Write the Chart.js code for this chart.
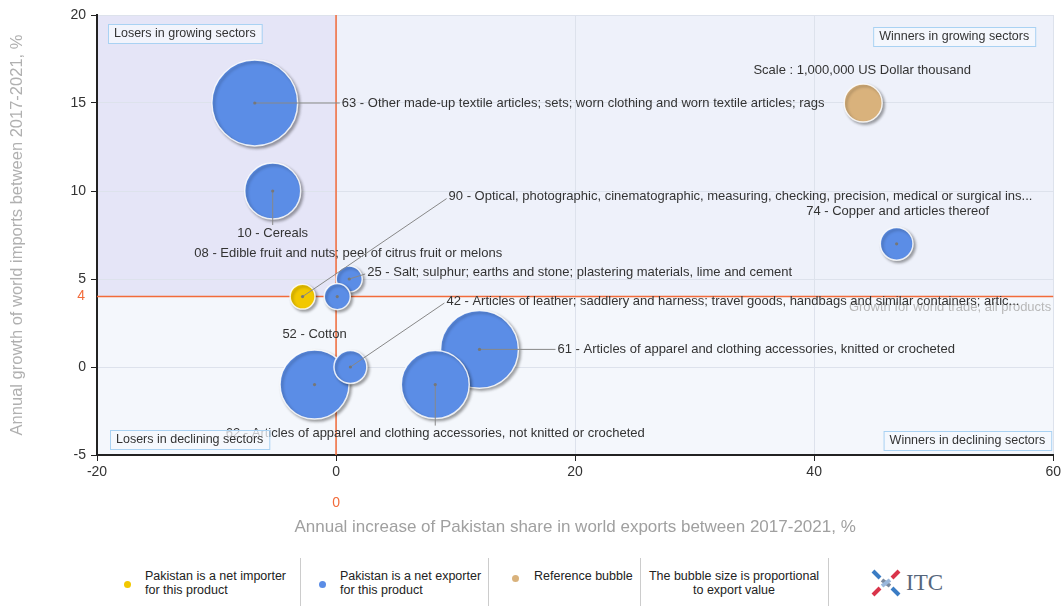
<!DOCTYPE html>
<html>
<head>
<meta charset="utf-8">
<script src="https://cdn.jsdelivr.net/npm/chart.js@4"></script>
<style>
  html, body { margin: 0; padding: 0; background: #fff; }
  body { width: 1064px; height: 606px; position: relative; overflow: hidden; font-family: "Liberation Sans", Arial, sans-serif; }
  #wrap { position: absolute; left: 0; top: 0; width: 1064px; height: 545px; }
  .leg { position: absolute; font-size: 12.5px; color: #222; line-height: 14px; white-space: nowrap; }
  .dot { position: absolute; width: 7px; height: 7px; border-radius: 50%; }
  .sep { position: absolute; top: 558px; width: 1px; height: 48px; background: #ccc; }
</style>
</head>
<body>
<div id="wrap"><canvas id="chart"></canvas></div>

<div class="dot" style="left:124px;top:581px;background:#f2c800"></div>
<div class="leg" style="left:145px;top:569px">Pakistan is a net importer<br>for this product</div>
<div class="sep" style="left:300px"></div>
<div class="dot" style="left:319px;top:581px;background:#5b8de6"></div>
<div class="leg" style="left:340px;top:569px">Pakistan is a net exporter<br>for this product</div>
<div class="sep" style="left:488px"></div>
<div class="dot" style="left:512px;top:575px;background:#d9b27c"></div>
<div class="leg" style="left:534px;top:569px">Reference bubble</div>
<div class="sep" style="left:640px"></div>
<div class="leg" style="left:640px;top:569px;width:188px;text-align:center">The bubble size is proportional<br>to export value</div>
<div class="sep" style="left:828px"></div>
<div style="position:absolute;left:870px;top:568px;">
  <svg width="32" height="30" viewBox="0 0 32 30">
    <g stroke-width="4" stroke-linecap="butt">
      <line x1="3" y1="3" x2="10" y2="10" stroke="#3a7cc4"/>
      <line x1="22" y1="20" x2="29" y2="27" stroke="#3a7cc4"/>
      <line x1="29" y1="3" x2="22" y2="10" stroke="#d9344a"/>
      <line x1="10" y1="20" x2="3" y2="27" stroke="#d9344a"/>
      <line x1="12" y1="12" x2="20" y2="18" stroke="#7a8aa0"/>
      <line x1="20" y1="12" x2="12" y2="18" stroke="#9ab8dc"/>
    </g>
  </svg>
  <span style="position:absolute;left:36px;top:2px;font-family:'Liberation Serif',serif;font-size:23px;color:#56667c;">ITC</span>
</div>

<script>
// products (HS2), drawing order matters for overlaps
const productCodes = ['63', '10', '25', '08', '90', '52', '42', '61', '62', '74'];
const productNames = [
  'Other made-up textile articles; sets; worn clothing and worn textile articles; rags',
  'Cereals',
  'Salt; sulphur; earths and stone; plastering materials, lime and cement',
  'Edible fruit and nuts; peel of citrus fruit or melons',
  'Optical, photographic, cinematographic, measuring, checking, precision, medical or surgical ins...',
  'Cotton',
  'Articles of leather; saddlery and harness; travel goods, handbags and similar containers; artic...',
  'Articles of apparel and clothing accessories, knitted or crocheted',
  'Articles of apparel and clothing accessories, not knitted or crocheted',
  'Copper and articles thereof'
];
// annual increase of Pakistan share in world exports 2017-2021, %
const shareGrowth = [-6.8, -5.3, 1.1, 0.1, -2.8, -1.8, 1.2, 12.0, 8.3, 46.9];
// annual growth of world imports 2017-2021, %
const importGrowth = [15, 10, 5, 4, 4, -1, 0, 1, -1, 7];
// Pakistan exports, US Dollar thousand
const exportValue = [5100000, 2170000, 470000, 470000, 430000, 3300000, 750000, 4200000, 3200000, 740000];
const netImporter = [false, false, false, false, true, false, false, false, false, false];

const refX = 44.1, refY = 15, refValue = 1000000;
const worldGrowth = 4;

const xTicks = [-20, 0, 20, 40, 60];
const yTicks = [-5, 0, 5, 10, 15, 20];

// label layout, pixel offsets from bubble centre
const labelLayout = {
  '63': { dx: 87, dy: 0, align: 'left', line: true },
  '10': { dx: 0, dy: 42, align: 'center', line: true },
  '25': { dx: 18, dy: -7, align: 'left', line: true },
  '08': { dx: 11, dy: -43, align: 'center', line: false },
  '90': { dx: 146, dy: -100, align: 'left', line: true },
  '52': { dx: 0, dy: -50, align: 'center', line: false },
  '42': { dx: 96, dy: -66, align: 'left', line: true },
  '61': { dx: 78, dy: 0, align: 'left', line: true },
  '62': { dx: 0, dy: 49, align: 'center', line: true },
  '74': { dx: 1, dy: -32, align: 'center', line: false }
};

const REF_R = 19;
const radiusOf = v => REF_R * Math.sqrt(v / refValue);

const BLUE = '#5b8de6', YELLOW = '#f2c800', TAN = '#d9b27c';
const FONT = '"Liberation Sans", Arial, sans-serif';

const quadrants = {
  id: 'quadrants',
  beforeDraw(chart) {
    const { ctx, chartArea: a, scales: { x, y } } = chart;
    const x0 = x.getPixelForValue(0), y4 = y.getPixelForValue(worldGrowth);
    ctx.save();
    ctx.fillStyle = '#f4f7fc';
    ctx.fillRect(a.left, a.top, a.right - a.left, a.bottom - a.top);
    ctx.fillStyle = '#eef1fa';
    ctx.fillRect(x0, a.top, a.right - x0, y4 - a.top);
    ctx.fillStyle = '#e5e5f7';
    ctx.fillRect(a.left, a.top, x0 - a.left, y4 - a.top);
    ctx.restore();
  },
  beforeDatasetsDraw(chart) {
    const { ctx, chartArea: a, scales: { x, y } } = chart;
    const x0 = x.getPixelForValue(0), y4 = y.getPixelForValue(worldGrowth);
    ctx.save();
    ctx.strokeStyle = '#f26b3a';
    ctx.lineWidth = 1.5;
    ctx.beginPath();
    ctx.moveTo(x0, a.top); ctx.lineTo(x0, a.bottom);
    ctx.moveTo(a.left, y4); ctx.lineTo(a.right, y4);
    ctx.stroke();
    ctx.fillStyle = '#f26b3a';
    ctx.font = '14px ' + FONT;
    ctx.textAlign = 'right'; ctx.textBaseline = 'middle';
    ctx.fillText('4', a.left - 12, y4);
    ctx.textAlign = 'center';
    ctx.fillText('0', x0, a.bottom + 48);
    ctx.fillStyle = '#b8b8b8';
    ctx.font = '13px ' + FONT;
    ctx.textAlign = 'right';
    ctx.fillText('Growth for world trade, all products', a.right - 2, y4 + 11);
    ctx.restore();
    // bubble shadows
    ctx.save();
    ctx.shadowColor = 'rgba(0,0,0,0.35)';
    ctx.shadowBlur = 3;
    ctx.shadowOffsetX = 2;
    ctx.shadowOffsetY = 2;
  },
  afterDatasetsDraw(chart) {
    const { ctx, chartArea: a, scales: { x, y } } = chart;
    ctx.restore();
    ctx.save();
    ctx.font = '13px ' + FONT;
    ctx.textBaseline = 'middle';
    productCodes.forEach((code, i) => {
      const cx = x.getPixelForValue(shareGrowth[i]);
      const cy = y.getPixelForValue(importGrowth[i]);
      const l = labelLayout[code];
      const tx = cx + l.dx, ty = cy + l.dy;
      ctx.strokeStyle = '#888';
      ctx.fillStyle = '#777';
      ctx.lineWidth = 1;
      if (l.line) {
        ctx.beginPath();
        ctx.moveTo(cx, cy);
        if (l.align === 'left') ctx.lineTo(tx - 2, ty + (l.dy ? 2 : 0));
        else ctx.lineTo(tx, ty - 8);
        ctx.stroke();
      }
      ctx.beginPath(); ctx.arc(cx, cy, 1.6, 0, Math.PI * 2); ctx.fill();
      ctx.fillStyle = '#333';
      ctx.textAlign = l.align;
      ctx.fillText(code + ' - ' + productNames[i], tx, ty);
    });
    const rx = x.getPixelForValue(refX), ry = y.getPixelForValue(refY);
    ctx.textAlign = 'center';
    ctx.fillText('Scale : 1,000,000 US Dollar thousand', rx - 1, ry - 33);

    // quadrant captions
    ctx.font = '12.5px ' + FONT;
    const boxes = [
      ['Losers in growing sectors', a.left + 11, a.top + 9, 'left'],
      ['Winners in growing sectors', a.right - 18, a.top + 12, 'right'],
      ['Losers in declining sectors', a.left + 13, a.bottom - 25, 'left'],
      ['Winners in declining sectors', a.right - 2, a.bottom - 24, 'right']
    ];
    boxes.forEach(([t, bx, by, side]) => {
      const w = ctx.measureText(t).width + 12;
      const left = side === 'left' ? bx : bx - w;
      ctx.fillStyle = 'rgba(246,248,253,0.75)';
      ctx.fillRect(left, by, w, 19);
      ctx.strokeStyle = '#a9d2f3';
      ctx.strokeRect(left + 0.5, by + 0.5, w, 19);
      ctx.fillStyle = '#333';
      ctx.textAlign = 'left';
      ctx.fillText(t, left + 6, by + 10);
    });
    ctx.restore();
  }
};

new Chart(document.getElementById('chart'), {
  type: 'bubble',
  data: {
    datasets: [
      {
        label: 'Products',
        data: productCodes.map((c, i) => ({ x: shareGrowth[i], y: importGrowth[i], r: radiusOf(exportValue[i]) })),
        backgroundColor: netImporter.map(n => n ? YELLOW : BLUE),
        borderColor: 'rgba(255,255,255,0.85)',
        borderWidth: 1.5
      },
      {
        label: 'Reference bubble',
        data: [{ x: refX, y: refY, r: radiusOf(refValue) }],
        backgroundColor: TAN,
        borderColor: 'rgba(255,255,255,0.85)',
        borderWidth: 1.5
      }
    ]
  },
  options: {
    responsive: true,
    maintainAspectRatio: false,
    animation: false,
    layout: { autoPadding: false, padding: { top: 15, right: 10, left: 0, bottom: 0 } },
    plugins: {
      legend: { display: false },
      tooltip: { enabled: false }
    },
    scales: {
      x: {
        type: 'linear',
        min: -20, max: 60,
        afterBuildTicks: s => { s.ticks = xTicks.map(v => ({ value: v })); },
        afterFit: s => { s.height = 90; },
        border: { color: '#222', width: 2 },
        grid: { color: '#dde2ec', tickColor: '#222', tickLength: 6 },
        ticks: { color: '#333', font: { size: 14, family: FONT }, padding: 3 },
        title: {
          display: true,
          text: 'Annual increase of Pakistan share in world exports between 2017-2021, %',
          color: '#a0a0a0',
          font: { size: 17, family: FONT },
          padding: { top: 0, bottom: 7 }
        }
      },
      y: {
        type: 'linear',
        min: -5, max: 20,
        afterBuildTicks: s => { s.ticks = yTicks.map(v => ({ value: v })); },
        afterFit: s => { s.width = 97; },
        border: { color: '#222', width: 2 },
        grid: { color: '#dde2ec', tickColor: '#222', tickLength: 6 },
        ticks: { color: '#333', font: { size: 14, family: FONT }, padding: 5 },
        title: {
          display: true,
          text: 'Annual growth of world imports between 2017-2021, %',
          color: '#b0b0b0',
          font: { size: 16.5, family: FONT },
          padding: { top: 8, bottom: 0 }
        }
      }
    }
  },
  plugins: [quadrants]
});
</script>
</body>
</html>
